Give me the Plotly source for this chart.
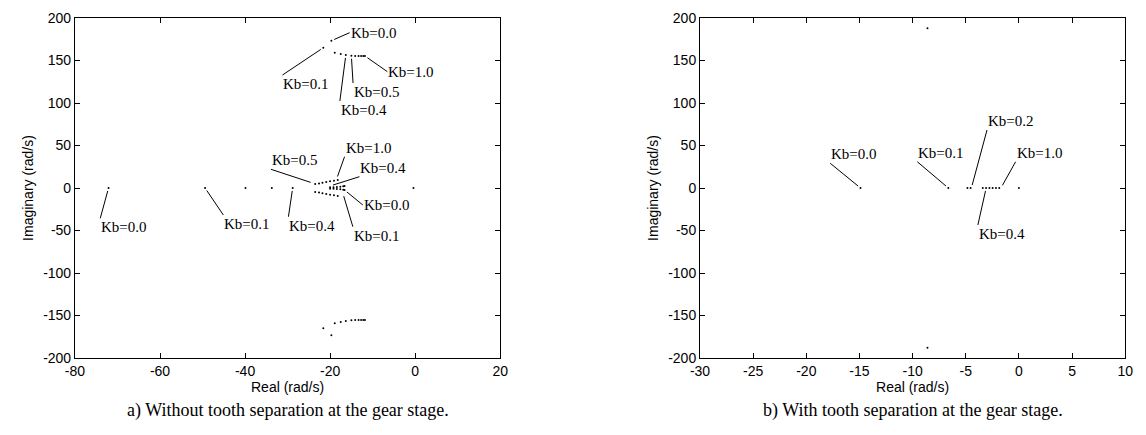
import plotly.graph_objects as go

# ---------------- data ----------------
# a) without tooth separation: upper high-frequency pair (Kb = 0.0 ... 1.0)
a_hi_re = [-19.7, -21.6, -18.9, -17.5, -16.3, -15.0, -14.1, -13.3, -12.7, -12.2, -11.8]
a_hi_im = [173.3, 165.0, 159.0, 157.6, 156.5, 155.6, 155.4, 155.3, 155.3, 155.3, 155.3]
# real-axis poles
a_real_re = [-72.1, -49.4, -39.9, -33.7, -28.8, -0.4]
a_real_im = [0, 0, 0, 0, 0, 0]
# low-frequency complex cluster
a_mid_re = [-23.5, -22.6, -21.8, -20.9, -20.0, -19.1, -18.2,
            -20.0, -19.2, -18.4, -17.6, -16.9, -16.6]
a_mid_im = [4.7, 5.4, 6.3, 7.0, 7.9, 8.6, 9.4,
            0.8, 1.0, 1.3, 1.6, 2.0, 2.4]

# b) with tooth separation
b_re = [-14.9, -6.64, -4.84, -4.54, -3.40, -3.09, -2.78, -2.47, -2.16, -1.85, 0.0]
b_im = [0, 0, 0, 0, 0, 0, 0, 0, 0, 0, 0]
b_hi_re = [-8.6]
b_hi_im = [188.0]

a_xticks = [-80, -60, -40, -20, 0, 20]
b_xticks = [-30, -25, -20, -15, -10, -5, 0, 5, 10]
yticks = [-200, -150, -100, -50, 0, 50, 100, 150, 200]

captions = ["a) Without tooth separation at the gear stage.",
            "b) With tooth separation at the gear stage."]

# labels: (text, head_re, head_im, tail_re, tail_im, xanchor, yanchor)
a_labels = [
    ("Kb=0.0", -19.7, 173.3, -15.4, 182.7, "left", "middle"),
    ("Kb=0.1", -21.6, 165.0, -31.2, 132.9, "left", "top"),
    ("Kb=0.4", -16.3, 156.5, -17.7, 102.4, "left", "top"),
    ("Kb=0.5", -15.0, 155.6, -14.6, 123.5, "left", "top"),
    ("Kb=1.0", -11.8, 155.3, -6.55, 136.9, "left", "middle"),
    ("Kb=0.5", -23.9, 5.5, -33.9, 22.0, "left", "bottom"),
    ("Kb=1.0", -18.5, 10.2, -16.6, 36.8, "left", "bottom"),
    ("Kb=0.4", -20.0, 2.4, -13.1, 13.3, "left", "bottom"),
    ("Kb=0.0", -16.6, -2.4, -12.3, -20.0, "left", "middle"),
    ("Kb=0.1", -17.0, -6.2, -14.65, -45.5, "left", "top"),
    ("Kb=0.4", -28.8, 0.0, -29.8, -33.8, "left", "top"),
    ("Kb=0.1", -49.4, 0.0, -45.1, -31.8, "left", "top"),
    ("Kb=0.0", -72.1, 0.0, -74.05, -35.6, "left", "top"),
]
b_labels = [
    ("Kb=0.0", -14.9, 0.0, -17.75, 29.1, "left", "bottom"),
    ("Kb=0.1", -6.64, 0.0, -9.56, 30.9, "left", "bottom"),
    ("Kb=0.2", -4.47, 0.0, -3.0, 68.2, "left", "bottom"),
    ("Kb=1.0", -1.69, 0.0, -0.31, 30.9, "left", "bottom"),
    ("Kb=0.4", -3.08, 0.0, -3.86, -43.5, "left", "top"),
]

# ---------------- figure ----------------
W, H = 1146, 435
fig = go.Figure()

dot = dict(color="black", size=2, symbol="circle", line=dict(width=0))

# left panel
fig.add_trace(go.Scatter(x=a_hi_re, y=a_hi_im, mode="markers", marker=dot, xaxis="x", yaxis="y"))
fig.add_trace(go.Scatter(x=a_hi_re, y=[-v for v in a_hi_im], mode="markers", marker=dot, xaxis="x", yaxis="y"))
fig.add_trace(go.Scatter(x=a_real_re, y=a_real_im, mode="markers", marker=dot, xaxis="x", yaxis="y"))
fig.add_trace(go.Scatter(x=a_mid_re, y=a_mid_im, mode="markers", marker=dot, xaxis="x", yaxis="y"))
fig.add_trace(go.Scatter(x=a_mid_re, y=[-v for v in a_mid_im], mode="markers", marker=dot, xaxis="x", yaxis="y"))

# right panel
fig.add_trace(go.Scatter(x=b_re, y=b_im, mode="markers", marker=dot, xaxis="x2", yaxis="y2"))
fig.add_trace(go.Scatter(x=b_hi_re, y=b_hi_im, mode="markers", marker=dot, xaxis="x2", yaxis="y2"))
fig.add_trace(go.Scatter(x=b_hi_re, y=[-v for v in b_hi_im], mode="markers", marker=dot, xaxis="x2", yaxis="y2"))

tickfont = dict(family="Liberation Sans, Arial, sans-serif", size=14, color="black")
titlefont = dict(family="Liberation Sans, Arial, sans-serif", size=14, color="black")

def fmt(v):
    return str(v).replace("\u2212", "-")

def axis_common():
    return dict(showline=True, linecolor="black", linewidth=1, mirror="allticks",
                ticks="inside", ticklen=5, tickcolor="black", tickwidth=1,
                showgrid=False, zeroline=False, tickfont=tickfont, fixedrange=True)

L0, L1 = 66 / W, 498 / W
R0, R1 = 701 / W, 1133 / W

fig.update_layout(
    width=W, height=H,
    margin=dict(l=0, r=0, t=18, b=77),
    paper_bgcolor="white", plot_bgcolor="white",
    showlegend=False, hovermode=False,
    xaxis=dict(domain=[L0, L1], range=[-80, 20], tickvals=a_xticks,
               ticktext=[fmt(v) for v in a_xticks], anchor="y",
               title=dict(text="Real (rad/s)", font=titlefont, standoff=2), **axis_common()),
    yaxis=dict(domain=[0, 1], range=[-200, 200], tickvals=yticks,
               ticktext=[fmt(v) for v in yticks], anchor="x",
               title=dict(text="Imaginary (rad/s)", font=titlefont, standoff=6), **axis_common()),
    xaxis2=dict(domain=[R0, R1], range=[-30, 10], tickvals=b_xticks,
                ticktext=[fmt(v) for v in b_xticks], anchor="y2",
                title=dict(text="Real (rad/s)", font=titlefont, standoff=2), **axis_common()),
    yaxis2=dict(domain=[0, 1], range=[-200, 200], tickvals=yticks,
                ticktext=[fmt(v) for v in yticks], anchor="x2",
                title=dict(text="Imaginary (rad/s)", font=titlefont, standoff=6), **axis_common()),
)

labfont = dict(family="Liberation Serif, Times New Roman, serif", size=15, color="black")

def add_labels(labels, xr, yr):
    for txt, hx, hy, tx, ty, xa, ya in labels:
        fig.add_annotation(x=hx, y=hy, ax=tx, ay=ty, xref=xr, yref=yr, axref=xr, ayref=yr,
                           text=txt, showarrow=True, arrowhead=0, arrowwidth=1,
                           arrowcolor="black", standoff=3, startstandoff=0,
                           xanchor=xa, yanchor=ya, font=labfont, borderpad=0)

add_labels(a_labels, "x", "y")
add_labels(b_labels, "x2", "y2")

capfont = dict(family="Liberation Serif, Times New Roman, serif", size=18, color="black")
for cap, cx in zip(captions, [(L0 + L1) / 2, (R0 + R1) / 2]):
    fig.add_annotation(x=cx, y=-(411 - 358) / 340, xref="paper", yref="paper",
                       text=cap, showarrow=False, font=capfont,
                       xanchor="center", yanchor="middle")

fig.write_html("out.html",
               config={"displayModeBar": False, "staticPlot": True},
               post_script="document.body.style.margin='0';document.body.style.overflow='hidden';")
